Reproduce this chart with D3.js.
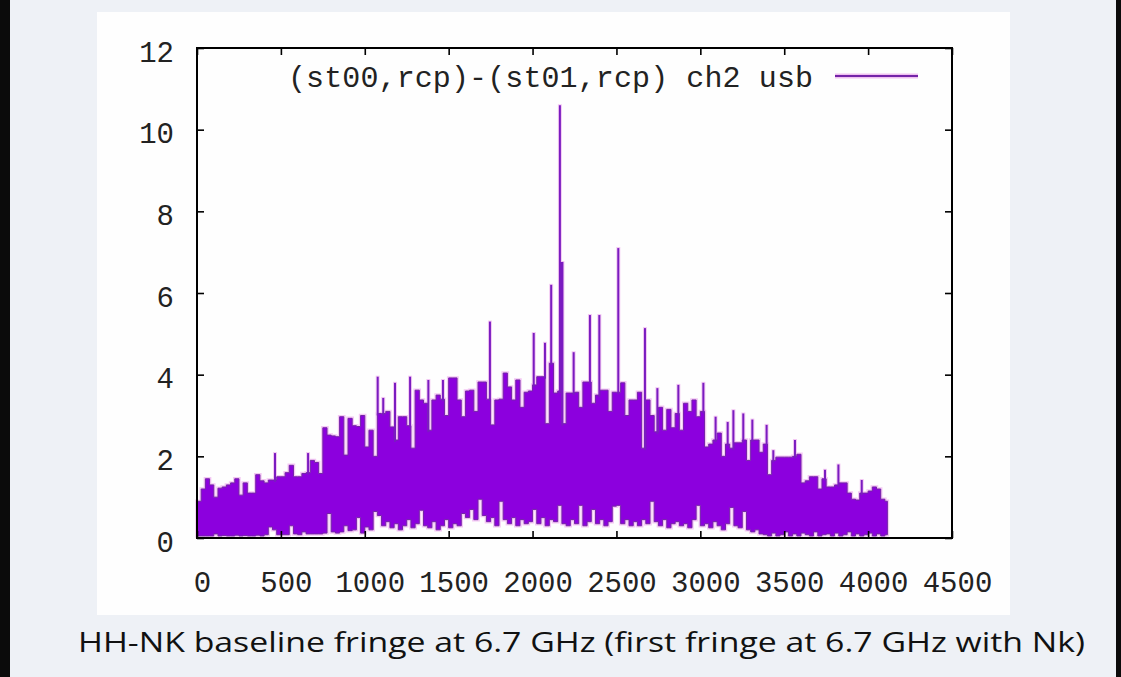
<!DOCTYPE html>
<html><head><meta charset="utf-8">
<script src="https://cdn.jsdelivr.net/npm/d3@7"></script>
<style>
html,body{margin:0;padding:0;background:#eef1f6;}
svg{display:block}
</style></head><body>
<svg id="c" width="1121" height="677"></svg>
<script>
// ---- data ----
const channelStep = 25;          // channels per envelope sample
const lastChannel = 4115;        // last channel with data
const hiEnv = [
 0.9,1.2,1.45,1.3,1.0,1.22,1.25,1.3,1.35,1.45,
 1.05,1.35,1.1,1.1,1.55,1.4,1.35,1.42,1.42,1.5,
 1.5,1.6,1.78,1.5,1.5,1.58,1.6,1.9,1.85,1.58,
 2.7,2.52,2.5,2.48,2.97,2.03,2.93,2.75,2.73,3.0,
 2.23,2.64,2.0,3.05,3.05,3.1,2.72,2.4,2.97,2.97,
 2.75,2.2,3.62,3.38,3.3,2.64,3.38,3.5,3.4,3.0,
 3.92,3.92,3.38,2.97,3.6,3.62,3.1,3.82,3.82,3.4,
 2.77,3.38,3.4,4.04,3.7,3.38,3.87,3.2,3.57,3.6,
 3.75,3.95,3.95,2.8,4.28,3.55,3.6,2.8,3.55,3.55,
 3.57,3.2,3.82,3.82,3.3,3.5,3.62,3.62,3.1,3.57,
 3.57,3.8,3.0,3.38,3.38,3.57,2.2,3.38,3.0,2.6,
 3.2,2.64,3.15,2.7,3.05,2.64,3.3,3.1,3.38,2.97,
 3.1,2.23,2.3,2.4,2.57,2.0,2.3,2.2,2.33,2.33,
 2.4,1.9,2.4,2.4,2.1,2.3,1.55,1.9,1.98,1.98,
 1.98,1.98,2.0,2.05,1.35,1.4,1.5,1.5,1.2,1.45,
 1.25,1.25,1.3,1.35,1.35,1.1,0.95,0.93,1.1,1.1,
 1.15,1.25,1.2,0.95,0.9
];
const loEnv = [
 0.05,0.05,0.05,0.05,0.1,0.05,0.06,0.05,0.05,0.07,
 0.05,0.06,0.05,0.05,0.07,0.05,0.08,0.27,0.2,0.08,
 0.08,0.08,0.3,0.1,0.08,0.15,0.1,0.1,0.1,0.1,
 0.12,0.6,0.15,0.12,0.15,0.3,0.18,0.2,0.5,0.12,
 0.27,0.2,0.65,0.55,0.3,0.4,0.25,0.35,0.2,0.3,
 0.45,0.25,0.35,0.68,0.3,0.25,0.4,0.2,0.3,0.45,
 0.25,0.35,0.3,0.6,0.5,0.7,0.45,0.95,0.55,0.4,
 0.5,0.3,0.9,0.45,0.35,0.5,0.3,0.45,0.35,0.4,
 0.7,0.35,0.5,0.3,0.45,0.4,0.8,0.35,0.3,0.45,
 0.35,0.8,0.3,0.4,0.7,0.35,0.45,0.3,0.4,0.78,
 0.8,0.35,0.45,0.3,0.4,0.3,0.45,0.35,0.9,0.4,
 0.3,0.45,0.25,0.35,0.4,0.3,0.35,0.25,0.45,0.8,
 0.3,0.35,0.25,0.4,0.3,0.2,0.35,0.75,0.3,0.25,
 0.65,0.2,0.15,0.2,0.1,0.08,0.05,0.12,0.05,0.08,
 0.15,0.05,0.1,0.05,0.12,0.08,0.05,0.15,0.05,0.08,
 0.1,0.05,0.12,0.05,0.08,0.15,0.05,0.1,0.05,0.08,
 0.12,0.05,0.1,0.05,0.08
];
const spikeChannels = [465,662,1077,1110,1180,1270,1379,1466,1746,2007,2074,2111,2163,2170,2178,2245,2342,2398,2511,2670,2744,2869,3018,3091,3163,3197,3256,3310,3395,3435,3564,3743,3823,3962];
const spikeValues   = [2.08,2.08,3.95,3.43,3.8,3.95,3.87,3.87,5.3,5.02,4.78,6.2,10.6,6.76,6.76,4.55,5.46,5.46,7.1,5.14,3.67,3.75,3.8,2.97,2.84,3.13,3.05,2.9,2.77,2.15,2.4,1.67,1.8,1.42];
const xTicks = [0,500,1000,1500,2000,2500,3000,3500,4000,4500];
const yTicks = [0,2,4,6,8,10,12];
const legendLabel = "(st00,rcp)-(st01,rcp) ch2 usb";
const captionText = "HH-NK baseline fringe at 6.7 GHz (first fringe at 6.7 GHz with Nk)";

// ---- drawing ----
const W = 1121, H = 677;
const svg = d3.select("#c");
svg.append("rect").attr("width", W).attr("height", H).attr("fill", "#eef1f6");
svg.append("rect").attr("x", 0).attr("y", 0).attr("width", 10).attr("height", H).attr("fill", "#0b0b0b");
svg.append("rect").attr("x", 1116).attr("y", 0).attr("width", 5).attr("height", H).attr("fill", "#0b0b0b");
svg.append("rect").attr("x", 97).attr("y", 12).attr("width", 913).attr("height", 603).attr("fill", "#fefefe");

const x = d3.scaleLinear().domain([0, 4500]).range([197, 952]);
const y = d3.scaleLinear().domain([0, 12]).range([538, 48]);

const bins = hiEnv.map((h, i) => ({c: i * channelStep, hi: h, lo: loEnv[i]}));
bins.push({c: lastChannel, hi: hiEnv[hiEnv.length - 1], lo: loEnv[loEnv.length - 1]});

const area = d3.area()
  .curve(d3.curveStepAfter)
  .x(d => x(d.c))
  .y0(d => y(d.lo))
  .y1(d => y(d.hi));

const plot = svg.append("g");
const spikes = spikeChannels.map((c, i) => ({c, v: spikeValues[i], base: hiEnv[Math.min(Math.floor(c / channelStep), hiEnv.length - 1)]}));

// halo
plot.append("path").datum(bins).attr("d", area)
  .attr("fill", "none").attr("stroke", "#f3c8f3").attr("stroke-width", 3.5);
plot.selectAll("line.sh").data(spikes).join("line").attr("class", "sh")
  .attr("x1", d => x(d.c)).attr("x2", d => x(d.c))
  .attr("y1", d => y(d.base) + 2).attr("y2", d => y(d.v) - 1)
  .attr("stroke", "#f3c8f3").attr("stroke-width", 4);
// core
plot.append("path").datum(bins).attr("d", area)
  .attr("fill", "#8c00de").attr("stroke", "#7424a8").attr("stroke-width", 1);
plot.selectAll("line.sp").data(spikes).join("line").attr("class", "sp")
  .attr("x1", d => x(d.c)).attr("x2", d => x(d.c))
  .attr("y1", d => y(d.base) + 2).attr("y2", d => y(d.v))
  .attr("stroke", "#7a1cc0").attr("stroke-width", 2);

// axes
const tickFont = "'Liberation Mono', 'DejaVu Sans Mono', monospace";
function styleAxis(g) {
  g.select(".domain").remove();
  g.selectAll(".tick line").attr("stroke", "#000").attr("stroke-width", 1.6);
  g.selectAll(".tick text").attr("fill", "#222").style("font-family", tickFont).style("font-size", "29px");
}
svg.append("g").attr("transform", "translate(0,538)")
  .call(d3.axisBottom(x).tickValues(xTicks).tickFormat(d3.format("d")).tickSizeInner(-7).tickSizeOuter(0).tickPadding(33))
  .call(styleAxis)
  .call(g => g.selectAll(".tick text").attr("dx", 5));
svg.append("g").attr("transform", "translate(0,48)")
  .call(d3.axisTop(x).tickValues(xTicks).tickFormat("").tickSizeInner(-7).tickSizeOuter(0))
  .call(styleAxis);
svg.append("g").attr("transform", "translate(197,0)")
  .call(d3.axisLeft(y).tickValues(yTicks).tickFormat(d3.format("d")).tickSizeInner(-7).tickSizeOuter(0).tickPadding(23))
  .call(styleAxis)
  .call(g => g.selectAll(".tick text").attr("dy", "0.45em"));
svg.append("g").attr("transform", "translate(952,0)")
  .call(d3.axisRight(y).tickValues(yTicks).tickFormat("").tickSizeInner(-7).tickSizeOuter(0))
  .call(styleAxis);

svg.append("rect").attr("x", 197).attr("y", 48).attr("width", 755).attr("height", 490)
  .attr("fill", "none").attr("stroke", "#000").attr("stroke-width", 2);

// legend
svg.append("text").attr("x", 813).attr("y", 87).attr("text-anchor", "end")
  .attr("textLength", 525).attr("lengthAdjust", "spacing")
  .style("font-family", tickFont).style("font-size", "30px").attr("fill", "#222")
  .text(legendLabel);
svg.append("line").attr("x1", 835).attr("x2", 918).attr("y1", 76).attr("y2", 76)
  .attr("stroke", "#f0c0f0").attr("stroke-width", 5);
svg.append("line").attr("x1", 835).attr("x2", 918).attr("y1", 76).attr("y2", 76)
  .attr("stroke", "#7424a8").attr("stroke-width", 2.2);

// caption
svg.append("text").attr("x", 78).attr("y", 652)
  .attr("textLength", 1007).attr("lengthAdjust", "spacingAndGlyphs")
  .style("font-family", "'Open Sans', Lato, sans-serif").style("font-size", "28px").attr("fill", "#111")
  .text(captionText);
</script>
</body></html>
